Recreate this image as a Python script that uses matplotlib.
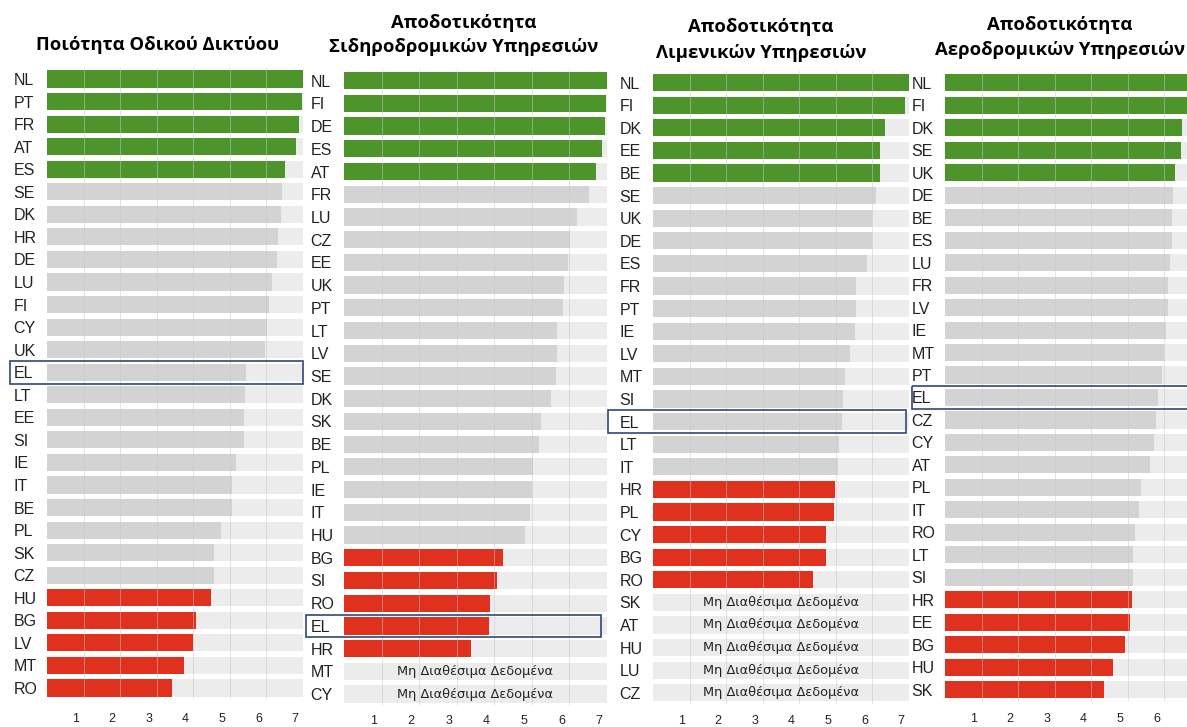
import matplotlib.pyplot as plt
from matplotlib.patches import Rectangle
from matplotlib.transforms import ScaledTranslation, blended_transform_factory
import numpy as np

NA = np.nan

# Ποιότητα Οδικού Δικτύου
road_countries = ["NL", "PT", "FR", "AT", "ES", "SE", "DK", "HR", "DE", "LU", "FI", "CY", "UK", "EL",
                  "LT", "EE", "SI", "IE", "IT", "BE", "PL", "SK", "CZ", "HU", "BG", "LV", "MT", "RO"]
road_values = [7.0, 6.97, 6.89, 6.80, 6.50, 6.43, 6.41, 6.33, 6.30, 6.16, 6.07, 6.02, 5.97, 5.45,
               5.42, 5.40, 5.38, 5.17, 5.07, 5.07, 4.77, 4.57, 4.56, 4.49, 4.07, 3.98, 3.75, 3.42]
road_groups = ["g"] * 5 + ["n"] * 18 + ["r"] * 5

# Σιδηρόδρομοι
rail_countries = ["NL", "FI", "DE", "ES", "AT", "FR", "LU", "CZ", "EE", "UK", "PT", "LT", "LV", "SE",
                  "DK", "SK", "BE", "PL", "IE", "IT", "HU", "BG", "SI", "RO", "EL", "HR", "MT", "CY"]
rail_values = [7.0, 6.98, 6.94, 6.88, 6.71, 6.53, 6.20, 6.01, 5.95, 5.86, 5.82, 5.68, 5.68, 5.63,
               5.50, 5.24, 5.20, 5.04, 5.01, 4.95, 4.82, 4.23, 4.08, 3.89, 3.86, 3.38, NA, NA]
rail_groups = ["g"] * 5 + ["n"] * 16 + ["r"] * 5 + ["x"] * 2

# Λιμάνια
port_countries = ["NL", "FI", "DK", "EE", "BE", "SE", "UK", "DE", "ES", "FR", "PT", "IE", "LV", "MT",
                  "SI", "EL", "LT", "IT", "HR", "PL", "CY", "BG", "RO", "SK", "AT", "HU", "LU", "CZ"]
port_values = [7.0, 6.90, 6.35, 6.21, 6.20, 6.10, 5.99, 5.98, 5.84, 5.55, 5.54, 5.53, 5.38, 5.25,
               5.20, 5.17, 5.09, 5.06, 4.98, 4.95, 4.73, 4.72, 4.38, NA, NA, NA, NA, NA]
port_groups = ["g"] * 5 + ["n"] * 13 + ["r"] * 5 + ["x"] * 5

# Αεροδρόμια
air_countries = ["NL", "FI", "DK", "SE", "UK", "DE", "BE", "ES", "LU", "FR", "LV", "IE", "MT", "PT",
                 "EL", "CZ", "CY", "AT", "PL", "IT", "RO", "LT", "SI", "HR", "EE", "BG", "HU", "SK"]
air_values = [7.0, 6.98, 6.47, 6.44, 6.30, 6.24, 6.22, 6.22, 6.14, 6.11, 6.11, 6.04, 5.98, 5.94,
              5.83, 5.77, 5.71, 5.61, 5.36, 5.30, 5.19, 5.15, 5.15, 5.11, 5.07, 4.92, 4.60, 4.34]
air_groups = ["g"] * 5 + ["n"] * 18 + ["r"] * 5

titles = ["Ποιότητα Οδικού Δικτύου",
          "Αποδοτικότητα\nΣιδηροδρομικών Υπηρεσιών",
          "Αποδοτικότητα\nΛιμενικών Υπηρεσιών",
          "Αποδοτικότητα\nΑεροδρομικών Υπηρεσιών"]
ticks = [1, 2, 3, 4, 5, 6, 7]
na_text = "Μη Διαθέσιμα Δεδομένα"

COLORS = {"g": "#4d942a", "n": "#d3d3d3", "r": "#e0301e"}
W, H = 1187, 727

# left, right, top, bottom (px); title x, y (px); EL box left/right (axes fraction); tick pad; n ticks
panels = [
    (47, 303, 67.7, 699.3, 158, 45, -0.145, 1.0, 10, 7),
    (344, 607, 69.3, 705.4, 464, 35, -0.145, 0.977, 7, 7),
    (653, 909, 71.4, 704.0, 761, 40, -0.175, 0.99, 8, 7),
    (945, 1201, 71.5, 701.0, 1060, 37.5, -0.13, 1.02, 9, 6),
]
data = [(road_countries, road_values, road_groups),
        (rail_countries, rail_values, rail_groups),
        (port_countries, port_values, port_groups),
        (air_countries, air_values, air_groups)]

plt.rcParams['font.family'] = ['Liberation Sans', 'DejaVu Sans']
fig = plt.figure(figsize=(W / 100, H / 100), dpi=100)

for (l, r, t, b, tx, ty, rl, rr, tpad, nt), (countries, values, groups), title in zip(panels, data, titles):
    ax = fig.add_axes([l / W, 1 - b / H, (r - l) / W, (b - t) / H])
    y = np.arange(len(countries))
    ax.barh(y, [7] * len(y), height=0.76, color="#ececec", zorder=1)
    vals = np.nan_to_num(np.array(values, dtype=float))
    cols = [COLORS.get(g, "#ececec") for g in groups]
    ax.barh(y, vals, height=0.76, color=cols, zorder=2)
    for tk in ticks:
        ax.axvline(tk, color="#c8c8c8", lw=0.6, alpha=0.6, zorder=3)
    for i, g in enumerate(groups):
        if g == "x":
            ax.text(3.5, i, na_text, ha="center", va="center", fontsize=9.3,
                    family=["DejaVu Sans"], color="#222222", zorder=4)
    ax.set_ylim(len(y) - 0.5, -0.5)
    ax.set_xlim(0, 7)
    ax.set_yticks(y)
    ax.set_yticklabels(countries, ha="left", fontsize=11.5, color="#222222")
    ax.tick_params(axis="y", length=0, pad=24)
    ax.set_xticks(ticks[:nt])
    ax.set_xticklabels([str(tk) for tk in ticks[:nt]], fontsize=9, color="#222222")
    ax.tick_params(axis="x", length=0, pad=tpad)
    for lab in ax.get_xticklabels():
        lab.set_transform(lab.get_transform() + ScaledTranslation(-8 / 100, 0, fig.dpi_scale_trans))
    for s in ax.spines.values():
        s.set_visible(False)
    if "EL" in countries:
        i = countries.index("EL")
        tr = blended_transform_factory(ax.transAxes, ax.transData)
        ax.add_patch(Rectangle((rl, i - 0.5), rr - rl, 1.0, transform=tr, fill=False,
                               edgecolor="#2f4778", lw=1.2, clip_on=False, zorder=5))
    fig.text(tx / W, 1 - ty / H, title, ha="center", va="center",
             fontsize=13.3, fontweight="bold", family=["Open Sans", "DejaVu Sans"],
             linespacing=1.5)

fig.savefig("out.png", dpi=100)
